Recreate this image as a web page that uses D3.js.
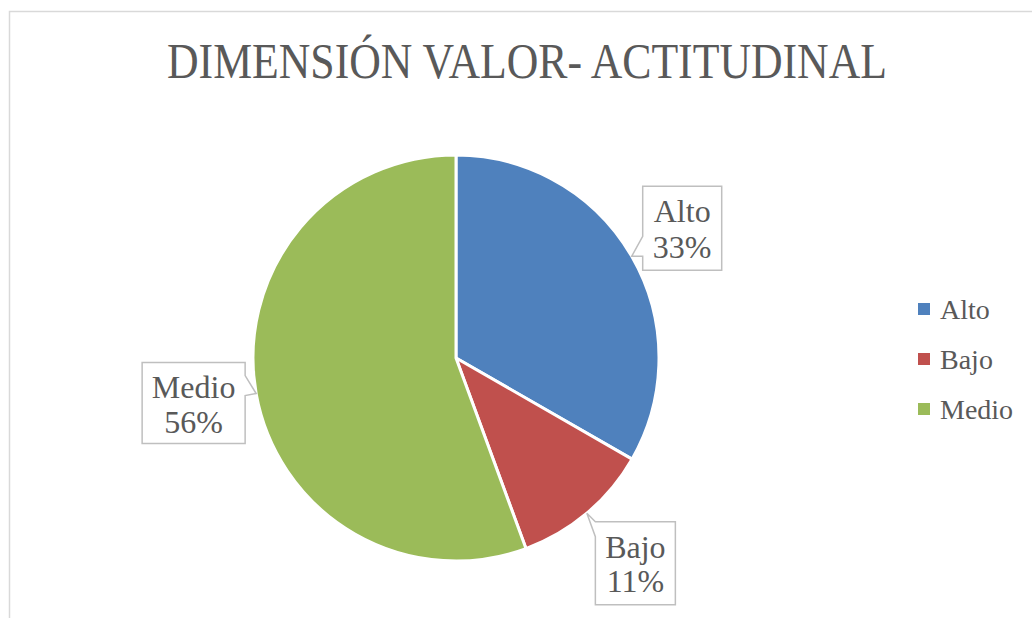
<!DOCTYPE html>
<html>
<head>
<meta charset="utf-8">
<script src="https://cdn.jsdelivr.net/npm/d3@7"></script>
<style>
  body { margin: 0; background: #fff; }
  svg { display: block; }
  text { font-family: "Liberation Serif", "DejaVu Serif", serif; fill: #595959; }
</style>
</head>
<body>
<svg id="chart" width="1032" height="618"></svg>
<script>
// datos
const categorias = ["Alto", "Bajo", "Medio"];
const valores = [33.3, 11.1, 55.6];
const colores = ["#4F81BD", "#C0504D", "#9BBB59"];
const titulo = "DIMENSIÓN VALOR- ACTITUDINAL";

const svg = d3.select("#chart");

// marco del gráfico
svg.append("rect")
  .attr("x", 9.5).attr("y", 11.5)
  .attr("width", 1100).attr("height", 700)
  .attr("fill", "#fff")
  .attr("stroke", "#d9d9d9")
  .attr("stroke-width", 1.5);

// título
svg.append("text")
  .attr("x", 527).attr("y", 78)
  .attr("text-anchor", "middle")
  .attr("font-size", 50)
  .attr("textLength", 720)
  .attr("lengthAdjust", "spacingAndGlyphs")
  .text(titulo);

// pastel
const cx = 456, cy = 358, r = 203;
const datos = categorias.map((c, i) => ({ cat: c, val: valores[i], color: colores[i] }));
const total = d3.sum(valores);
const pie = d3.pie().sort(null).value(d => d.val);
const arcos = pie(datos);
const arc = d3.arc().innerRadius(0).outerRadius(r);

const g = svg.append("g").attr("transform", `translate(${cx},${cy})`);
g.selectAll("path.slice")
  .data(arcos)
  .enter()
  .append("path")
  .attr("class", "slice")
  .attr("d", arc)
  .attr("fill", d => d.data.color)
  .attr("stroke", "#fff")
  .attr("stroke-width", 3)
  .attr("stroke-linejoin", "round");

// etiquetas con globo (posición relativa a la punta en el radio exterior)
// dx,dy: esquina sup. izq. de la caja respecto a la punta
const globos = {
  "Alto":  { dx: 11,   dy: -70, w: 79,  h: 84, lado: "izq", b1: -20, b2: 0, l1: 36, l2: 72 },
  "Bajo":  { dx: 8.5,  dy: 8.5, w: 80,  h: 83, lado: "izq", b1: 0,   b2: 15, l1: 36, l2: 70, rel: "top" },
  "Medio": { dx: -114, dy: -31, w: 103, h: 81, lado: "der", b1: -18, b2: 2, l1: 35, l2: 70 }
};

arcos.forEach(a => {
  const ang = (a.startAngle + a.endAngle) / 2;
  const tx = cx + r * Math.sin(ang);
  const ty = cy - r * Math.cos(ang);
  const o = globos[a.data.cat];
  const x0 = tx + o.dx, y0 = ty + o.dy, x1 = x0 + o.w, y1 = y0 + o.h;
  const base = o.rel === "top" ? y0 : ty;
  const p = d3.path();
  if (o.lado === "izq") {
    p.moveTo(x0, y0); p.lineTo(x1, y0); p.lineTo(x1, y1); p.lineTo(x0, y1);
    p.lineTo(x0, base + o.b2); p.lineTo(tx, ty); p.lineTo(x0, base + o.b1);
    p.closePath();
  } else {
    p.moveTo(x0, y0); p.lineTo(x1, y0); p.lineTo(x1, ty + o.b1); p.lineTo(tx, ty);
    p.lineTo(x1, ty + o.b2); p.lineTo(x1, y1); p.lineTo(x0, y1);
    p.closePath();
  }
  svg.append("path")
    .attr("d", p.toString())
    .attr("fill", "#fff")
    .attr("stroke", "#bfbfbf")
    .attr("stroke-width", 1.5);
  const pct = Math.round(a.data.val / total * 100) + "%";
  const xm = (x0 + x1) / 2;
  svg.append("text").attr("x", xm).attr("y", y0 + o.l1)
    .attr("text-anchor", "middle").attr("font-size", 32).text(a.data.cat);
  svg.append("text").attr("x", xm).attr("y", y0 + o.l2)
    .attr("text-anchor", "middle").attr("font-size", 32).text(pct);
});

// leyenda
const ley = svg.append("g").attr("transform", "translate(918,303)");
const filas = ley.selectAll("g")
  .data(datos)
  .enter()
  .append("g")
  .attr("transform", (d, i) => `translate(0,${i * 50})`);
filas.append("rect")
  .attr("width", 12).attr("height", 12)
  .attr("fill", d => d.color);
filas.append("text")
  .attr("x", 22).attr("y", 16)
  .attr("font-size", 28)
  .text(d => d.cat);
</script>
</body>
</html>
